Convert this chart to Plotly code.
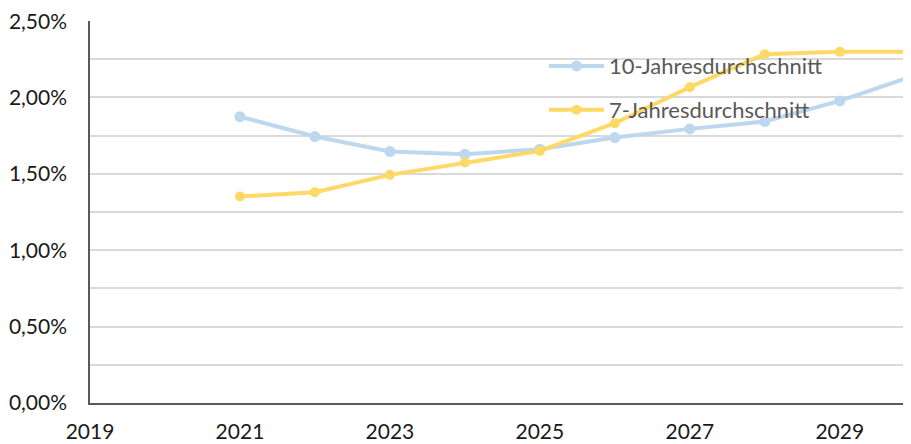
import plotly.graph_objects as go

years = [2021, 2022, 2023, 2024, 2025, 2026, 2027, 2028, 2029, 2030]
avg10 = [0.01874, 0.01744, 0.01646, 0.01628, 0.01661, 0.01737, 0.01794, 0.01842, 0.01977, 0.02145]
avg7 = [0.01351, 0.01380, 0.01493, 0.01574, 0.01650, 0.01831, 0.02067, 0.02283, 0.02298, 0.02298]
name10 = "10-Jahresdurchschnitt"
name7 = "7-Jahresdurchschnitt"

fig = go.Figure()
fig.add_trace(go.Scatter(x=years, y=avg10, name=name10, mode="lines+markers",
                         line=dict(color="#BDD7EE", width=4),
                         marker=dict(color="#BDD7EE", size=11), legend="legend"))
fig.add_trace(go.Scatter(x=years, y=avg7, name=name7, mode="lines+markers",
                         line=dict(color="#FFD966", width=4),
                         marker=dict(color="#FFD966", size=10), legend="legend2"))

font_family = "Lato, 'Open Sans', sans-serif"
legend_common = dict(bgcolor="rgba(0,0,0,0)", borderwidth=0, itemwidth=55,
                     font=dict(family=font_family, size=22, color="#595959"),
                     xanchor="left", yanchor="middle", itemclick=False)

# the page body adds an 8px margin, so the figure is sized to the visible area
fig.update_layout(
    width=903, height=436,
    margin=dict(l=82, r=0, t=13, b=41),
    paper_bgcolor="white", plot_bgcolor="white",
    separators=",.",
    font=dict(family=font_family, size=21, color="#1a1a1a"),
    showlegend=True,
    legend=dict(x=0.553, y=0.882, **legend_common),
    legend2=dict(x=0.553, y=0.767, **legend_common),
    xaxis=dict(range=[2019, 2029.95], tick0=2019, dtick=2, showgrid=False,
               showline=True, linecolor="#595959", linewidth=1.5, ticks="",
               ticklabelstandoff=9, automargin=False, ticklabeloverflow="allow",
               tickfont=dict(size=21, color="#1a1a1a"), zeroline=False),
    yaxis=dict(range=[0, 0.025], tickvals=[0, 0.005, 0.01, 0.015, 0.02, 0.02499],
               ticktext=["0,00%", "0,50%", "1,00%", "1,50%", "2,00%", "2,50%"],
               showgrid=True, gridcolor="#D9D9D9", gridwidth=1.5,
               minor=dict(dtick=0.0025, showgrid=True, gridcolor="#D9D9D9", gridwidth=1.5),
               showline=True, linecolor="#595959", linewidth=1.5, ticks="",
               ticklabelstandoff=17, automargin=False, ticklabeloverflow="allow",
               zeroline=False, tickfont=dict(size=21, color="#1a1a1a")),
)

fig.write_html("out.html")
